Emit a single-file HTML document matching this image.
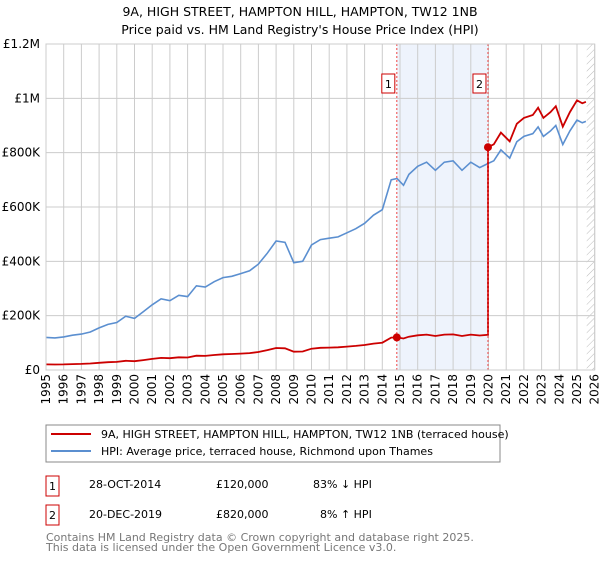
<!DOCTYPE html>
<html><head><meta charset="utf-8"><style>
body{margin:0;background:#fff;font-family:"DejaVu Sans","Liberation Sans",sans-serif;}
svg text{font-family:"DejaVu Sans","Liberation Sans",sans-serif;}
</style></head><body>
<svg id="c" width="600" height="560" xmlns="http://www.w3.org/2000/svg">
<defs><pattern id="hatch" width="5" height="5" patternUnits="userSpaceOnUse" patternTransform="rotate(45)"><line x1="0" y1="0" x2="0" y2="5" stroke="#bbb" stroke-width="1"/></pattern></defs>
<text x="300" y="16" text-anchor="middle" font-size="12.5" fill="#000">9A, HIGH STREET, HAMPTON HILL, HAMPTON, TW12 1NB</text>
<text x="300" y="34" text-anchor="middle" font-size="12.5" fill="#000">Price paid vs. HM Land Registry's House Price Index (HPI)</text>
<g id="plot"></g>
<g>
<rect x="46" y="425" width="454" height="37" fill="#fff" stroke="#888" stroke-width="1"/>
<line x1="51" y1="434" x2="91" y2="434" stroke="#cc0000" stroke-width="2"/>
<text x="101" y="438" font-size="11">9A, HIGH STREET, HAMPTON HILL, HAMPTON, TW12 1NB (terraced house)</text>
<line x1="51" y1="451" x2="91" y2="451" stroke="#5b8fd0" stroke-width="2"/>
<text x="101" y="455" font-size="11">HPI: Average price, terraced house, Richmond upon Thames</text>
</g>
<g font-size="11">
<rect x="46" y="476" width="13" height="20" fill="#fff" stroke="#cc0000"/>
<text x="52.5" y="490" text-anchor="middle">1</text>
<text x="89" y="488">28-OCT-2014</text><text x="216" y="488">£120,000</text><text x="313" y="488">83% ↓ HPI</text>
<rect x="46" y="505" width="13" height="20" fill="#fff" stroke="#cc0000"/>
<text x="52.5" y="519" text-anchor="middle">2</text>
<text x="89" y="518">20-DEC-2019</text><text x="216" y="518">£820,000</text><text x="320" y="518">8% ↑ HPI</text>
</g>
<text x="46" y="541" font-size="11" fill="#777">Contains HM Land Registry data © Crown copyright and database right 2025.</text>
<text x="46" y="551" font-size="11" fill="#777">This data is licensed under the Open Government Licence v3.0.</text>
</svg>
<script>
const hpiYears=[1995,1995.5,1996,1996.5,1997,1997.5,1998,1998.5,1999,1999.5,2000,2000.5,2001,2001.5,2002,2002.5,2003,2003.5,2004,2004.5,2005,2005.5,2006,2006.5,2007,2007.5,2008,2008.5,2009,2009.5,2010,2010.5,2011,2011.5,2012,2012.5,2013,2013.5,2014,2014.5,2014.83,2015.2,2015.5,2016,2016.5,2017,2017.5,2018,2018.5,2019,2019.5,2019.97,2020.3,2020.7,2021.2,2021.6,2022,2022.5,2022.8,2023.1,2023.5,2023.8,2024.2,2024.6,2025,2025.3,2025.5];
const hpiValues=[120,118,122,128,132,140,155,168,175,198,190,215,240,262,255,275,270,310,305,325,340,345,355,365,390,430,475,470,395,400,460,480,485,490,505,520,540,570,590,700,705,680,720,750,765,735,765,770,735,765,745,760,770,810,780,840,860,870,895,860,880,900,830,880,920,910,915];
const saleDates=[2014.82,2019.97];
const salePrices=[120,820];
const saleLabels=["1","2"];
const yTicks=[0,200,400,600,800,1000,1200];
const yTickLabels=["£0","£200K","£400K","£600K","£800K","£1M","£1.2M"];
const xTicks=[1995,1996,1997,1998,1999,2000,2001,2002,2003,2004,2005,2006,2007,2008,2009,2010,2011,2012,2013,2014,2015,2016,2017,2018,2019,2020,2021,2022,2023,2024,2025,2026];

const L=46,R=594.7,T=44,B=370;
const x=v=>L+(v-1995)/31*(R-L);
const y=v=>B-v/1200*(B-T);
const NS="http://www.w3.org/2000/svg";
const g=document.getElementById('plot');
function mk(t,a,p){const e=document.createElementNS(NS,t);for(const k in a)e.setAttribute(k,a[k]);(p||g).appendChild(e);return e;}
function hpiAt(t){for(let i=0;i<hpiYears.length-1;i++){if(t<=hpiYears[i+1]){const f=(t-hpiYears[i])/(hpiYears[i+1]-hpiYears[i]);return hpiValues[i]+f*(hpiValues[i+1]-hpiValues[i]);}}return hpiValues[hpiValues.length-1];}

let r=mk('rect',{x:x(saleDates[0]),y:T,width:x(saleDates[1])-x(saleDates[0]),height:B-T,fill:'#eef3fc'});


let h=mk('rect',{x:x(2025.55),y:T,width:R-x(2025.55),height:B-T,fill:'url(#hatch)'});



xTicks.forEach(t=>{
 let l=mk('line',{x1:x(t),x2:x(t),y1:T,y2:B,stroke:'#ccc','stroke-width':1});
 
 
 let tx=mk('text',{x:0,y:0,'font-size':12,'text-anchor':'end',transform:`translate(${x(t)+4},${B+4}) rotate(-90)`});
 tx.textContent=t;
 
 
});
yTicks.forEach((t,i)=>{
 let l=mk('line',{x1:L,x2:R,y1:y(t),y2:y(t),stroke:'#ccc','stroke-width':1});
 
 
 let tx=mk('text',{x:L-6,y:y(t)+4,'font-size':12,'text-anchor':'end'});
 tx.textContent=yTickLabels[i];
 
 
});

let hp=hpiYears.map((t,i)=>`${x(t).toFixed(1)},${y(hpiValues[i]).toFixed(1)}`).join(' ');
let hl=mk('polyline',{points:hp,fill:'none',stroke:'#5b8fd0','stroke-width':1.6});



let pts=[];
const f0=salePrices[0]/hpiAt(saleDates[0]);
hpiYears.forEach((t,i)=>{if(t<saleDates[0])pts.push([t,hpiValues[i]*f0]);});
pts.push([saleDates[0],salePrices[0]]);
hpiYears.forEach((t,i)=>{if(t>saleDates[0]&&t<saleDates[1])pts.push([t,hpiValues[i]*f0]);});
pts.push([saleDates[1],hpiAt(saleDates[1])*f0]);
pts.push([saleDates[1],salePrices[1]]);
const f2=salePrices[1]/hpiAt(saleDates[1]);
hpiYears.forEach((t,i)=>{if(t>saleDates[1])pts.push([t,hpiValues[i]*f2]);});
let pl=mk('polyline',{points:pts.map(p=>`${x(p[0]).toFixed(1)},${y(p[1]).toFixed(1)}`).join(' '),fill:'none',stroke:'#cc0000','stroke-width':1.8});



saleDates.forEach((d,i)=>{
 let dl=mk('line',{x1:x(d),x2:x(d),y1:T,y2:B,stroke:'#ee4444','stroke-width':1,'stroke-dasharray':'2,2'});
 
 
 let m=mk('circle',{cx:x(d),cy:y(salePrices[i]),r:4,fill:'#cc0000'});
 
 
 let b=mk('rect',{x:x(d)-15,y:74,width:13,height:19,fill:'#fff',stroke:'#cc0000'});
 
 
 let bt=mk('text',{x:x(d)-8.5,y:88,'font-size':11,'text-anchor':'middle'});
 bt.textContent=saleLabels[i];
 
 
});
let fr=mk('rect',{x:L,y:T,width:R-L,height:B-T,fill:'none',stroke:'#ccc'});


</script>
</body></html>
